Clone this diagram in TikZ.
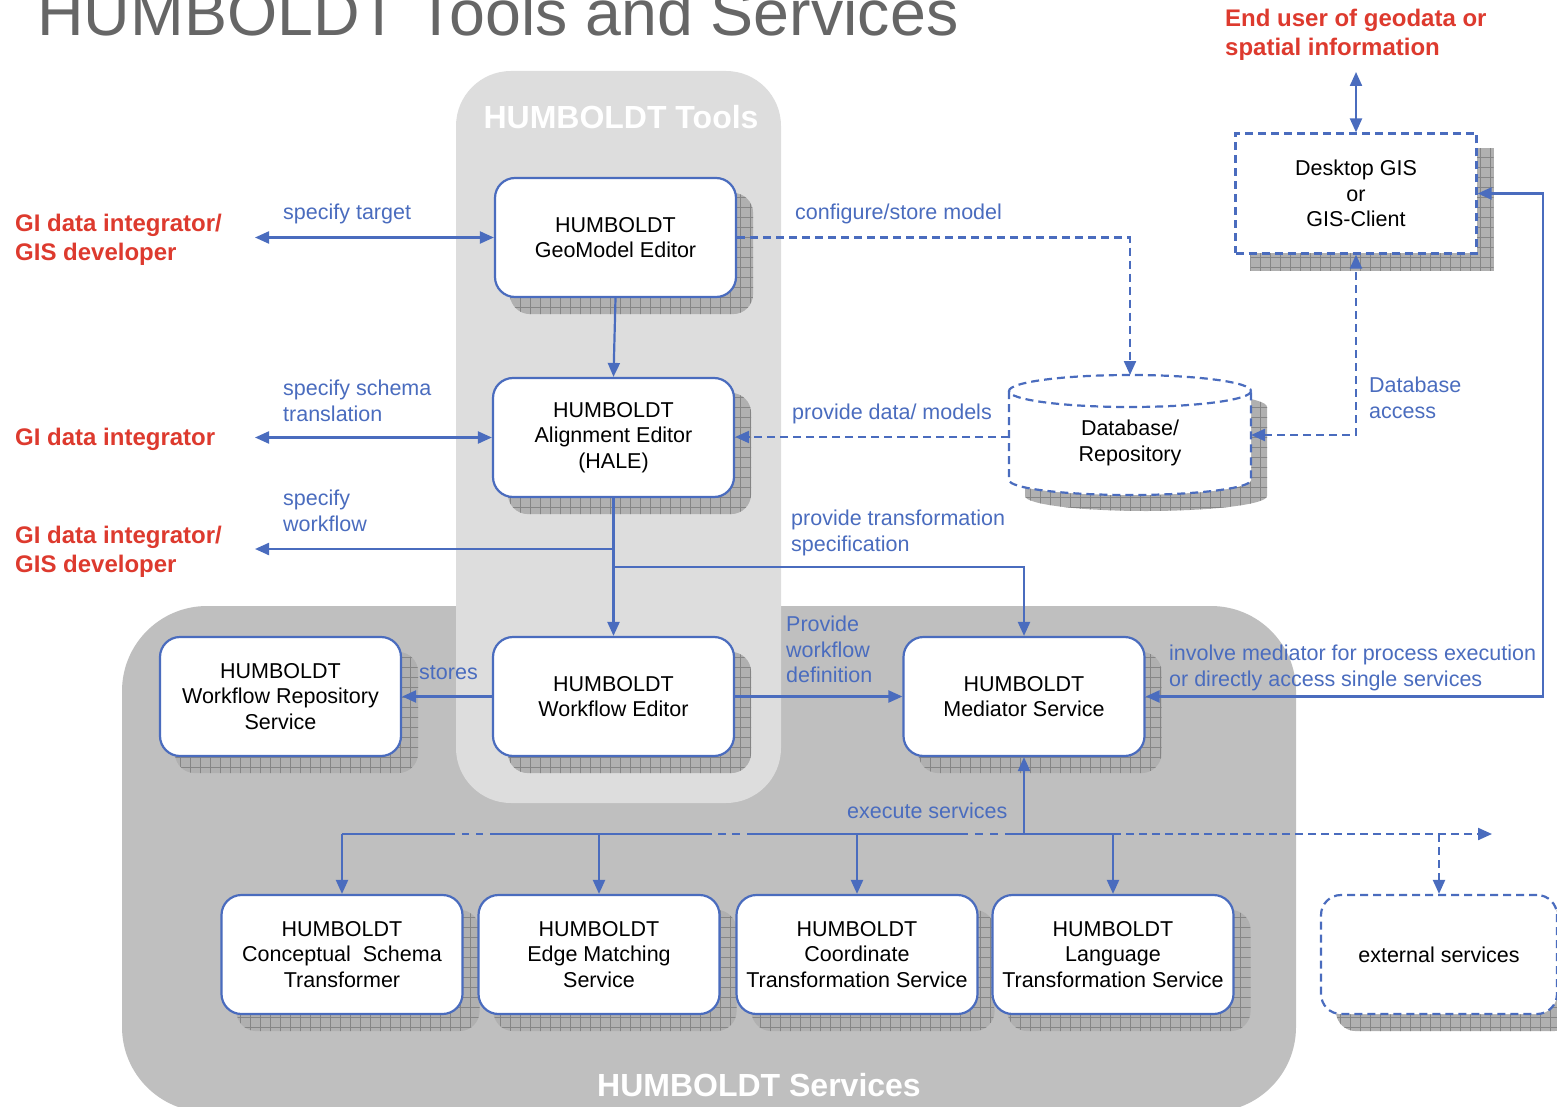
\documentclass[tikz,border=0pt]{standalone}
\usepackage{fontspec}
\setmainfont{Liberation Sans}
\usetikzlibrary{arrows.meta,patterns.meta}
\definecolor{lblue}{HTML}{4A6CBE}
\definecolor{lred}{HTML}{DD3A2E}
\definecolor{toolsgray}{HTML}{DDDDDD}
\definecolor{svcgray}{HTML}{BFBFBF}
\definecolor{titlegray}{HTML}{666666}
\definecolor{shadowgray}{HTML}{B0B0B0}
\definecolor{gridgray}{HTML}{858585}
\pgfdeclarelayer{regions}
\pgfdeclarelayer{shadows}
\pgfsetlayers{regions,shadows,main}
\tikzset{
 bodyfont/.style={font=\fontsize{21.5}{25.5}\selectfont},
 box/.style={bodyfont, draw=lblue, line width=2.2pt, fill=white, rounded corners=20pt, minimum width=241pt, minimum height=119pt, align=center, inner sep=0pt},
 conn/.style={draw=lblue, line width=2.2pt, >={Triangle[length=14pt,width=12pt]}},
 dconn/.style={conn, dash pattern=on 8pt off 5pt},
 lbl/.style={bodyfont, text=lblue, anchor=west, align=left, inner sep=0pt},
 actor/.style={font=\fontsize{24}{29}\selectfont\bfseries, text=lred, anchor=west, align=left, inner sep=0pt},
 shadowfill/.style={fill=shadowgray, postaction={pattern={Hatch[angle=0,distance=10pt,line width=0.8pt]}, pattern color=gridgray}},
 regiontitle/.style={font=\fontsize{32}{38}\selectfont\bfseries, text=white, inner sep=0pt},
}
\newcommand\boxshadow[1]{\begin{pgfonlayer}{shadows}\path[shadowfill,rounded corners=20pt] ([shift={(16,16)}]#1.north west) rectangle ([shift={(16,16)}]#1.south east);\end{pgfonlayer}}
\begin{document}
\begin{tikzpicture}[x=1pt,y=-1pt]
\useasboundingbox (0,0) rectangle (1557,1107);

% regions
\begin{pgfonlayer}{regions}
\fill[svcgray, rounded corners=85pt] (122,606) rectangle (1296,1112);
\fill[toolsgray, rounded corners=55pt] (456,71) rectangle (781,803);
\end{pgfonlayer}
\node[regiontitle] (ttools) at (621,117) {HUMBOLDT Tools};
\node[regiontitle] (tsvc) at (759,1085) {HUMBOLDT Services};

% title
\node[anchor=base west, inner sep=0pt, text=titlegray, font=\fontsize{64.5}{78}\selectfont] (title) at (37,36) {HUMBOLDT Tools and Services};

% boxes
\node[box] (geo) at (615.5,237.5) {HUMBOLDT\\GeoModel Editor};
\node[box] (ali) at (613.5,437.5) {HUMBOLDT\\Alignment Editor\\(HALE)};
\node[box] (wfe) at (613.5,696.5) {HUMBOLDT\\Workflow Editor};
\node[box] (wfr) at (280.5,696.5) {HUMBOLDT\\Workflow Repository\\Service};
\node[box] (med) at (1024,696.5) {HUMBOLDT\\Mediator Service};
\node[box] (cst) at (342,954.5) {HUMBOLDT\\Conceptual~ Schema\\Transformer};
\node[box] (ems) at (599,954.5) {HUMBOLDT\\Edge Matching\\Service};
\node[box] (cts) at (857,954.5) {HUMBOLDT\\Coordinate\\Transformation Service};
\node[box] (lts) at (1113,954.5) {HUMBOLDT\\Language\\Transformation Service};
\node[box, minimum width=236pt, dash pattern=on 8pt off 5pt] (ext) at (1439,954.5) {external services};
\foreach \n in {geo,ali,wfe,wfr,med,cst,ems,cts,lts,ext} {\boxshadow{\n}}

% desktop GIS
\node[bodyfont, align=center, minimum width=241pt, minimum height=120pt, inner sep=0pt, fill=white, draw=lblue, line width=2.2pt, dash pattern=on 8pt off 5pt] (gis) at (1356,193.5) {Desktop GIS\\or\\GIS-Client};
\begin{pgfonlayer}{shadows}
\path[shadowfill] ([shift={(16,16)}]gis.north west) rectangle ([shift={(16,16)}]gis.south east);
\end{pgfonlayer}

% database cylinder
\begin{pgfonlayer}{shadows}
\path[shadowfill] (1025,407) -- (1025,496) arc[start angle=180,end angle=0,x radius=121,y radius=15] -- (1267,407) arc[start angle=0,end angle=-180,x radius=121,y radius=16] -- cycle;
\end{pgfonlayer}
\fill[white] (1009,391) -- (1009,480) arc[start angle=180,end angle=0,x radius=121,y radius=15] -- (1251,391) arc[start angle=0,end angle=-180,x radius=121,y radius=16] -- cycle;
\draw[dconn] (1130,391) ellipse [x radius=121, y radius=16];
\draw[dconn] (1009,391) -- (1009,480) arc[start angle=180,end angle=0,x radius=121,y radius=15] -- (1251,391);
\node[bodyfont, align=center, inner sep=0pt] (db) at (1130,443) {Database/\\Repository};
\coordinate (dbN) at (1130,375);
\coordinate (dbW) at (1009,437);
\coordinate (dbE) at (1251,435);

% actors
\node[actor] (a1) at (15,240) {GI data integrator/\\GIS developer};
\node[actor] (a2) at (15,439.5) {GI data integrator};
\node[actor] (a3) at (15,551.5) {GI data integrator/\\GIS developer};
\node[actor] (a4) at (1225,35) {End user of geodata or\\spatial information};

% free ends / junctions
\coordinate (e1) at (255,237.5);
\coordinate (e2) at (255,437.5);
\coordinate (e3) at (255,549);
\coordinate (jL) at (613.5,549);
\coordinate (jR) at (613.5,567);
\coordinate (eu) at (1356,72);
\coordinate (rr) at (1543,696.5);
\coordinate (bus) at (0,834);
\coordinate (busR) at (1492,834);
\coordinate (busL) at (342,834);
\coordinate (busE) at (1113,834);

% connectors
\draw[conn,<->] (e1) -- (geo.west);
\draw[conn,<->] (e2) -- (ali.west);
\draw[conn,->] (geo.south) -- (ali.north);
\draw[conn,->] (ali.south) -- (wfe.north);
\draw[conn,->] (jL) -- (e3);
\draw[conn,->] (jR) -| (med.north);
\draw[dconn,->] (geo.east) -| (dbN);
\draw[dconn,->] (dbW) -- (ali.east |- dbW);
\draw[dconn,<->] (dbE) -| (gis.south);
\draw[conn,<->] (eu) -- (gis.north);
\draw[conn,<->] (med.east) -- (rr) |- (gis.east);
\draw[conn,->] (wfe.west) -- (wfr.east);
\draw[conn,->] (wfe.east) -- (med.west);

% execute services bus
\draw[conn] (busL) -- (455,834) (490,834) -- (712,834) (747,834) -- (968,834) (1005,834) -- (busE);
\draw[conn] (462,834) -- (469,834) (476,834) -- (483,834) (718,834) -- (726,834) (732,834) -- (740,834) (975,834) -- (983,834) (990,834) -- (998,834);
\draw[dconn,->] (busE) -- (busR);
\draw[conn,->] (med.south |- bus) -- (med.south);
\draw[conn,->] (cst.north |- bus) -- (cst.north);
\draw[conn,->] (ems.north |- bus) -- (ems.north);
\draw[conn,->] (cts.north |- bus) -- (cts.north);
\draw[conn,->] (lts.north |- bus) -- (lts.north);
\draw[dconn,->] (ext.north |- bus) -- (ext.north);

% labels
\node[lbl] (l1) at (283,214) {specify target};
\node[lbl] (l2) at (283,401) {specify schema\\translation};
\node[lbl] (l3) at (283,511) {specify\\workflow};
\node[lbl] (l4) at (795,214) {configure/store model};
\node[lbl] (l5) at (792,414) {provide data/ models};
\node[lbl] (l6) at (791,533) {provide transformation\\specification};
\node[lbl] (l7) at (1369,398) {Database\\access};
\node[lbl] (l8) at (419,673) {stores};
\node[lbl] (l9) at (786,649.5) {Provide\\workflow\\definition};
\node[lbl] (l10) at (1169,668) {involve mediator for process execution\\or directly access single services};
\node[lbl] (l11) at (847,811) {execute services};
\end{tikzpicture}
\end{document}
